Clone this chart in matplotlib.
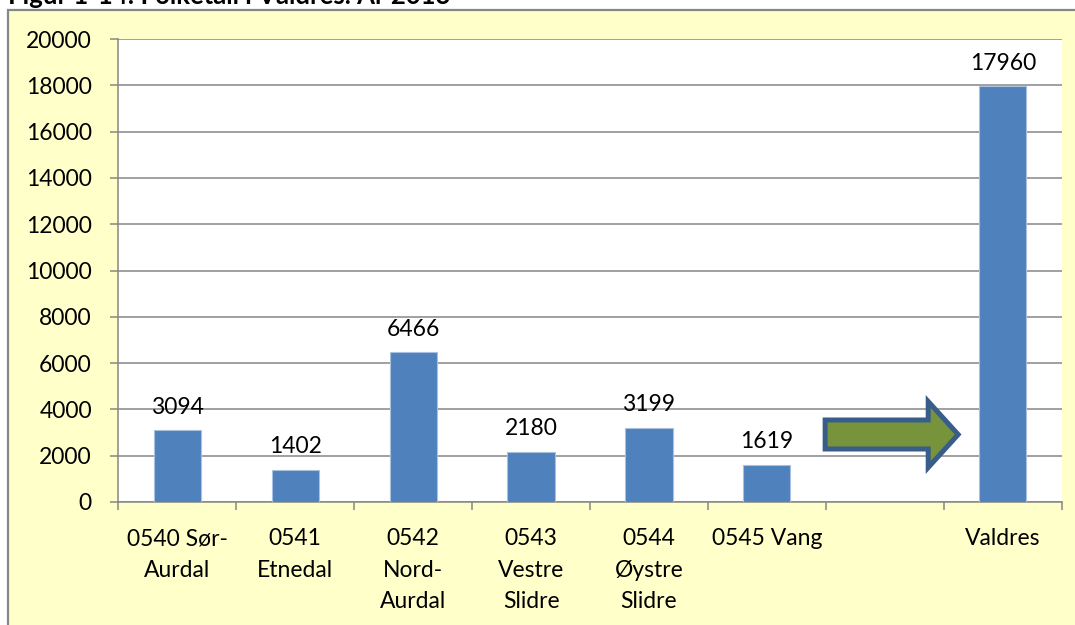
import matplotlib.pyplot as plt
from matplotlib.patches import Rectangle, FancyArrow

plt.rcParams['font.family'] = ['Lato', 'DejaVu Sans']

# Data
categories = ["0540 Sør-\nAurdal", "0541\nEtnedal", "0542\nNord-\nAurdal",
              "0543\nVestre\nSlidre", "0544\nØystre\nSlidre", "0545 Vang", "", "Valdres"]
population = [3094, 1402, 6466, 2180, 3199, 1619, None, 17960]
y_ticks = list(range(0, 20001, 2000))

W, H = 1075, 625
fig = plt.figure(figsize=(W / 100, H / 100), dpi=100)
fig.patch.set_facecolor('white')

# chart area (yellow box, runs off the right/bottom edge)
fig.patches.append(Rectangle((8 / W, -20 / H), 1.1, (H - 10 + 20) / H, transform=fig.transFigure,
                             facecolor='#FFFFCA', edgecolor='#878787', linewidth=1.6, zorder=-5))

# title is cut off by the top edge, as in the source image
fig.text(8 / W, (H - 4) / H, "Figur 1-14: Folketall i Valdres. År 2013", fontsize=18.5,
         fontweight='bold', va='baseline', ha='left')

ax = fig.add_axes([118.3 / W, (H - 502) / H, (1061.7 - 118.3) / W, (502 - 39) / H])
ax.set_zorder(2)
ax.set_facecolor('white')

xs = [i for i, v in enumerate(population) if v is not None]
vals = [v for v in population if v is not None]
bars = ax.bar(xs, vals, width=0.4, color='#4F81BD', edgecolor='#A9C1DF', linewidth=0.8, zorder=3)
for x, v in zip(xs, vals):
    ax.annotate(str(v), (x, v), xytext=(0, 12), textcoords='offset points',
                ha='center', va='baseline', fontsize=16.5)

ax.set_xlim(-0.5, len(categories) - 0.5)
ax.set_ylim(0, 20000)
ax.set_yticks(y_ticks)
ax.set_yticklabels([str(t) for t in y_ticks])
ax.set_xticks(range(len(categories)))
ax.set_xticklabels(categories, linespacing=1.62)
ax.set_xticks([i - 0.5 for i in range(len(categories) + 1)], minor=True)
ax.tick_params(axis='x', which='major', length=0, pad=19, labelsize=16.5)
ax.tick_params(axis='x', which='minor', length=6, width=1.1, color='#868686')
ax.tick_params(axis='y', length=6, width=1.1, color='#868686', pad=13, labelsize=16.5)

ax.grid(axis='y', color='#868686', linewidth=1.1, zorder=1)
ax.set_axisbelow(True)
for s in ['top', 'right']:
    ax.spines[s].set_visible(False)
for s in ['left', 'bottom']:
    ax.spines[s].set_color('#868686')
    ax.spines[s].set_linewidth(1.1)

# green block arrow pointing at the Valdres total
arrow_x, arrow_y, arrow_len = 5.494, 2916, 1.128
ax.add_patch(FancyArrow(arrow_x, arrow_y, arrow_len, 0, width=1253, head_width=2851,
                        head_length=0.254, length_includes_head=True,
                        facecolor='#77933C', edgecolor='#385D8A', linewidth=3.6,
                        joinstyle='miter', zorder=4))

fig.savefig('out.png', dpi=100)
